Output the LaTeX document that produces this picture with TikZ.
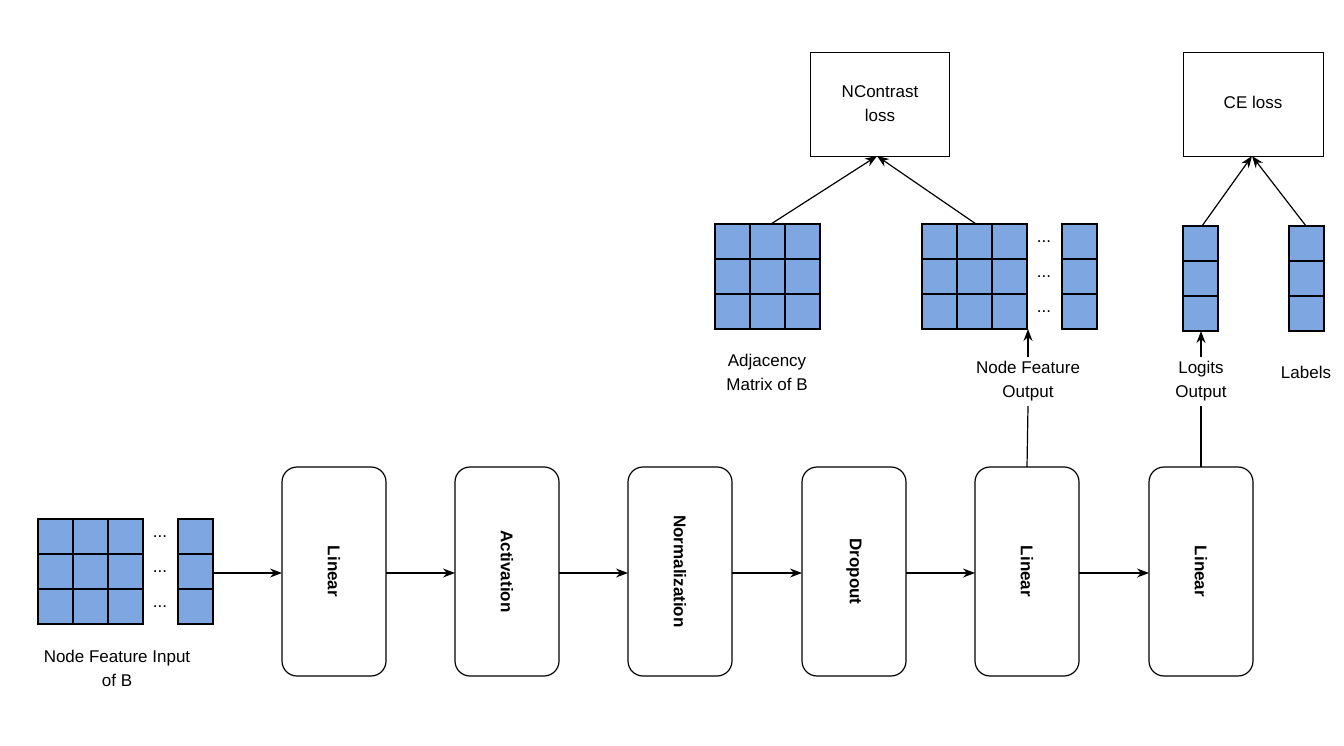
\documentclass[tikz,border=0pt]{standalone}
\usepackage{fontspec}
\setmainfont{Liberation Sans}
\usetikzlibrary{arrows.meta}
\definecolor{cellblue}{HTML}{7EA6E0}
\begin{document}
\begin{tikzpicture}[x=1pt,y=-1pt,
  cell/.style={draw=black,line width=1.5pt,fill=cellblue},
  blk/.style={draw=black,line width=1.2pt,rounded corners=15pt,fill=white},
  lbl/.style={align=center,font=\fontsize{17}{24}\selectfont},
  blabel/.style={font=\fontsize{17}{20}\selectfont\bfseries,rotate=-90},
  arr/.style={-{Stealth[length=12pt,width=9pt]},line width=1.2pt},
  ln/.style={line width=1.2pt},
  dots/.style={font=\fontsize{17}{20}\selectfont}]
\useasboundingbox (0,0) rectangle (1344,746);
% input matrix
\foreach \i in {0,1,2}{\foreach \j in {0,1,2}{\draw[cell] (38+35*\i,519+35*\j) rectangle ++(35,35);}
  \draw[cell] (178,519+35*\i) rectangle ++(35,35);
  \node[dots] at (160,537+35*\i) {...};}
\node[lbl] (inlbl) at (117,668) {Node Feature Input\\of B};
\coordinate (inR) at (213,573);
% blocks
\foreach \n/\x/\t in {b1/282/Linear,b2/455/Activation,b3/628/Normalization,b4/802/Dropout,b5/975/Linear,b6/1149/Linear}{
  \draw[blk] (\x,467) rectangle ++(104,209);
  \node[blabel] (\n) at (\x+52,571.5) {\t};
  \coordinate (\n L) at (\x,573); \coordinate (\n R) at (\x+104,573); \coordinate (\n T) at (\x+52,467);}
\draw[arr] (inR) -- (b1L);
\draw[arr] (b1R) -- (b2L);
\draw[arr] (b2R) -- (b3L);
\draw[arr] (b3R) -- (b4L);
\draw[arr] (b4R) -- (b5L);
\draw[arr] (b5R) -- (b6L);
% adjacency matrix
\foreach \i in {0,1,2}{\foreach \j in {0,1,2}{\draw[cell] (715+35*\i,224+35*\j) rectangle ++(35,35);}}
\node[lbl] (adjlbl) at (767,372) {Adjacency\\Matrix of B};
% output matrix
\foreach \i in {0,1,2}{\foreach \j in {0,1,2}{\draw[cell] (922+35*\i,224+35*\j) rectangle ++(35,35);}
  \draw[cell] (1062,224+35*\i) rectangle ++(35,35);
  \node[dots] at (1044,242+35*\i) {...};}
% logits and labels
\foreach \i in {0,1,2}{\draw[cell] (1183,226+35*\i) rectangle ++(35,35);
  \draw[cell] (1289,226+35*\i) rectangle ++(35,35);}
% losses
\node[draw,line width=1.2pt,minimum width=139pt,minimum height=104pt,lbl,anchor=north west,inner sep=0pt] (ncl) at (810,52) {};
\node[lbl] at (880,104) {NContrast\\loss};
\node[draw,line width=1.2pt,minimum width=140pt,minimum height=104pt,anchor=north west] (cel) at (1183,52) {};
\node[lbl] at (1253,102) {CE loss};
\coordinate (nclB) at (877,156);
\coordinate (celB) at (1252,156);
\coordinate (adjT) at (771,224);
\coordinate (outT) at (976,224);
\coordinate (logT) at (1202,226);
\coordinate (labT) at (1306,226);
\draw[arr] (adjT) -- (nclB);
\draw[arr] (outT) -- (nclB);
\draw[arr] (logT) -- (celB);
\draw[arr] (labT) -- (celB);
% output labels
\node[lbl,inner sep=0pt] (nfo) at (1028,381) {Node Feature\\Output};
\node[lbl,inner sep=0pt] (lo) at (1201,381) {Logits\\Output};
\node[lbl] (labs) at (1306,372) {Labels};
\coordinate (outB) at (1028,329);
\coordinate (logB) at (1201,331);
\draw[ln] (b5T) -- (1028,406);
\draw[ln] (b6T) -- (1201,406);
\draw[arr] (1028,357) -- (outB);
\draw[arr] (1201,357) -- (logB);
\end{tikzpicture}
\end{document}
